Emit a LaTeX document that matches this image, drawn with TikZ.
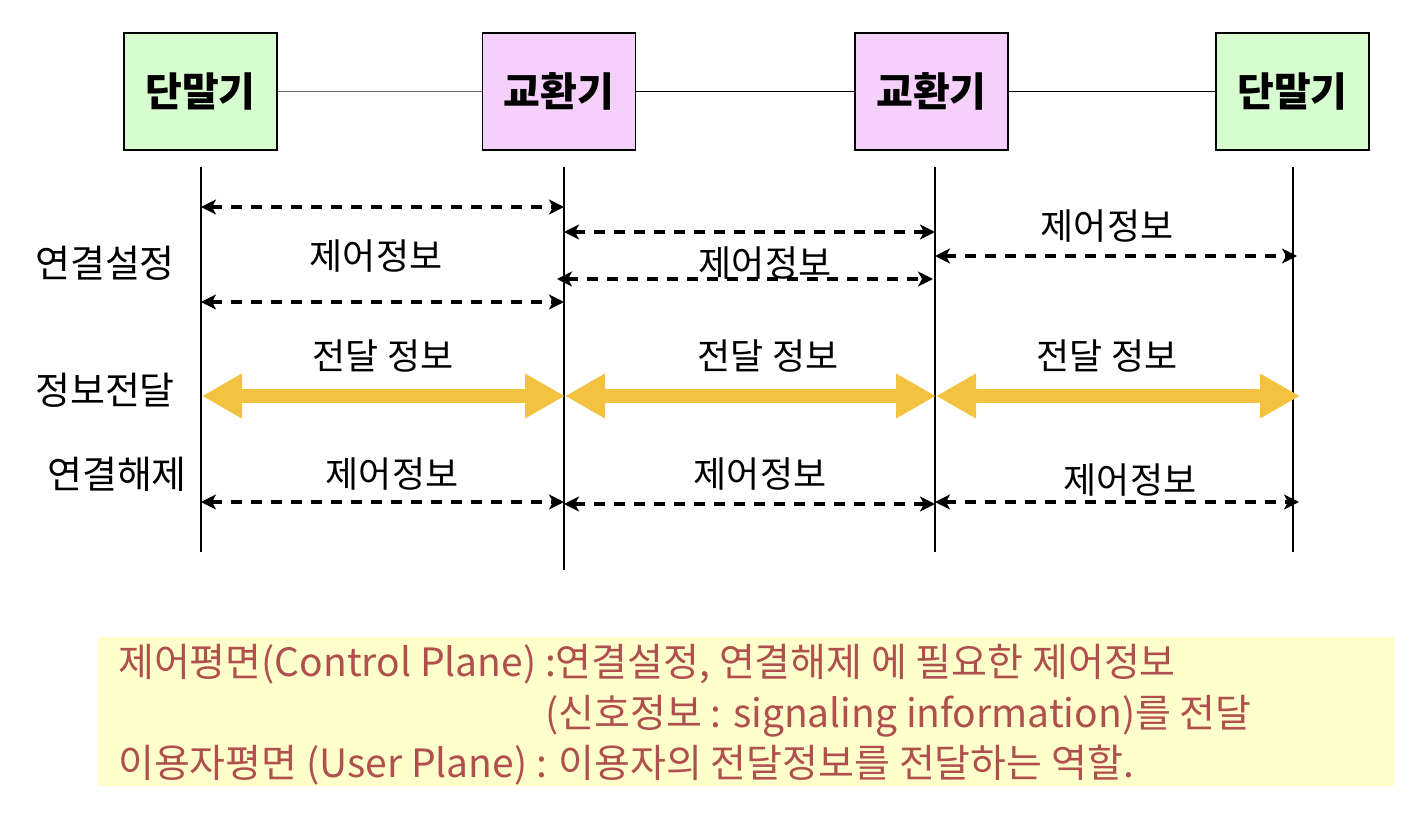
\documentclass[tikz,border=0pt]{standalone}
\usepackage{fontspec}
\setmainfont{Noto Sans CJK KR}
\usetikzlibrary{arrows.meta}
\definecolor{termfill}{RGB}{214,252,208}
\definecolor{swfill}{RGB}{245,208,250}
\definecolor{ylw}{RGB}{243,194,65}
\definecolor{notefill}{RGB}{255,255,204}
\definecolor{notetxt}{RGB}{176,80,78}
\tikzset{
  unitbox/.style={draw, line width=1.8pt, minimum width=153pt, minimum height=117pt, inner sep=0pt, font=\fontsize{40}{46}\selectfont\bfseries},
  term/.style={unitbox, fill=termfill},
  sw/.style={unitbox, fill=swfill},
  life/.style={line width=1.8pt},
  ctrl/.style={line width=3.4pt, dash pattern=on 11pt off 9pt, {Stealth[length=15pt,width=15pt,inset=4pt]}-{Stealth[length=15pt,width=15pt,inset=4pt]}},
  data/.style={ylw, line width=14pt, {Triangle[length=40pt,width=42pt]}-{Triangle[length=40pt,width=42pt]}, shorten <=-1pt, shorten >=-1pt},
  lbl/.style={font=\fontsize{36}{42}\selectfont, inner sep=0pt},
  side/.style={font=\fontsize{38}{44}\selectfont, inner sep=0pt},
  note/.style={font=\fontsize{39}{44}\selectfont, text=notetxt, inner sep=0pt, anchor=west},
}
\begin{document}
\begin{tikzpicture}[x=1pt,y=-1pt]
\useasboundingbox (0,0) rectangle (1402,818);
% boxes
\node[term] (t1) at (200.5,91.5) {단말기};
\node[sw] (s1) at (559,91.5) {교환기};
\node[sw] (s2) at (931.5,91.5) {교환기};
\node[term] (t2) at (1292.5,91.5) {단말기};
\draw[gray!80!black, line width=1.5pt] (t1) -- (s1);
\draw[line width=1.5pt] (s1) -- (s2);
\draw[line width=1.5pt] (s2) -- (t2);
% lifelines
\coordinate (a0) at (201,167); \coordinate (a1) at (201,552);
\coordinate (b0) at (564,167); \coordinate (b1) at (564,570);
\coordinate (c0) at (935,167); \coordinate (c1) at (935,552);
\coordinate (d0) at (1293,167); \coordinate (d1) at (1293,552);
\draw[life] (a0) -- (a1);
\draw[life] (b0) -- (b1);
\draw[life] (c0) -- (c1);
\draw[life] (d0) -- (d1);
% connection setup
\coordinate (p1l) at (201,207); \coordinate (p1r) at (564,207);
\coordinate (p2l) at (201,302); \coordinate (p2r) at (564,302);
\coordinate (p3l) at (564,232); \coordinate (p3r) at (935,232);
\coordinate (p4l) at (557,279); \coordinate (p4r) at (933,279);
\coordinate (p5l) at (935,256); \coordinate (p5r) at (1297,256);
\draw[ctrl] (p1l) -- (p1r);
\draw[ctrl] (p2l) -- (p2r);
\draw[ctrl] (p3l) -- (p3r);
\draw[ctrl] (p4l) -- (p4r);
\draw[ctrl] (p5l) -- (p5r);
\node[lbl] (l1) at (376,256) {제어정보};
\node[lbl] (l2) at (765,263) {제어정보};
\node[lbl] (l3) at (1107,226) {제어정보};
% data transfer
\coordinate (q1l) at (203,396); \coordinate (q1r) at (564,396);
\coordinate (q2l) at (566,396); \coordinate (q2r) at (935,396);
\coordinate (q3l) at (937,396); \coordinate (q3r) at (1299,396);
\draw[data] (q1l) -- (q1r);
\draw[data] (q2l) -- (q2r);
\draw[data] (q3l) -- (q3r);
\node[lbl] (m1) at (383,356) {전달 정보};
\node[lbl] (m2) at (768,356) {전달 정보};
\node[lbl] (m3) at (1107,356) {전달 정보};
% release
\coordinate (r1l) at (201,502); \coordinate (r1r) at (564,502);
\coordinate (r2l) at (564,504); \coordinate (r2r) at (935,504);
\coordinate (r3l) at (935,502); \coordinate (r3r) at (1299,502);
\draw[ctrl] (r1l) -- (r1r);
\draw[ctrl] (r2l) -- (r2r);
\draw[ctrl] (r3l) -- (r3r);
\node[lbl] (n1) at (392,474) {제어정보};
\node[lbl] (n2) at (760,474) {제어정보};
\node[lbl] (n3) at (1130,480) {제어정보};
% side labels
\node[side] (s_setup) at (105,263) {연결설정};
\node[side] (s_data) at (105,390) {정보전달};
\node[side] (s_rel) at (117,474) {연결해제};
% note
\node[fill=notefill, minimum width=1296pt, minimum height=149pt, inner sep=0pt] (notebox) at (746,711.5) {};
\node[note] (nt1) at (118,664) {제어평면(Control Plane) :연결설정, 연결해제 에 필요한 제어정보};
\node[note] (nt2) at (545,716) {(신호정보 : signaling information)를 전달};
\node[note] (nt3) at (118,765) {이용자평면 (User Plane) : 이용자의 전달정보를 전달하는 역할.};
\end{tikzpicture}
\end{document}
